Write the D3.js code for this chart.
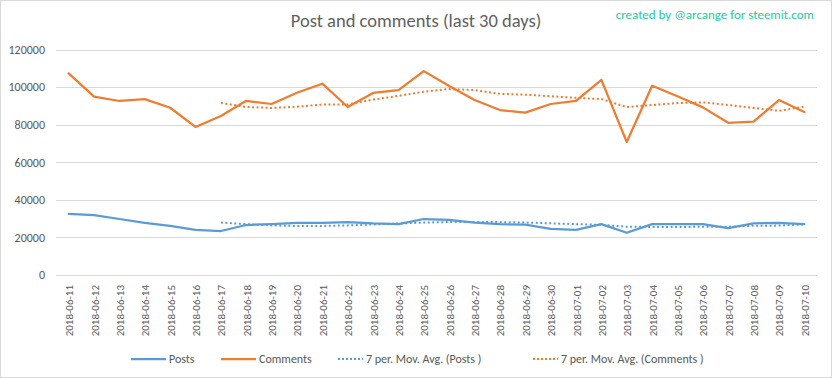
<!DOCTYPE html>
<html><head><meta charset="utf-8">
<script src="https://cdn.jsdelivr.net/npm/d3@7"></script>
<style>
body{margin:0;background:#fff;}
svg{display:block;font-family:Carlito,Calibri,"Open Sans",sans-serif;}
</style></head>
<body><svg id="c" width="832" height="378"></svg>
<script>
const dates = ["2018-06-11","2018-06-12","2018-06-13","2018-06-14","2018-06-15","2018-06-16","2018-06-17","2018-06-18","2018-06-19","2018-06-20","2018-06-21","2018-06-22","2018-06-23","2018-06-24","2018-06-25","2018-06-26","2018-06-27","2018-06-28","2018-06-29","2018-06-30","2018-07-01","2018-07-02","2018-07-03","2018-07-04","2018-07-05","2018-07-06","2018-07-07","2018-07-08","2018-07-09","2018-07-10"];
const posts = [32500,31900,29800,27700,26100,24000,23400,26600,27100,27700,27800,28200,27500,27100,29800,29300,27900,27100,26800,24500,24000,27100,22500,27100,27100,27100,25000,27500,27700,27100];
const comments = [107300,94900,92600,93600,89000,78800,84600,92700,91000,97000,101800,89400,96900,98400,108500,100600,93100,87800,86400,91000,92600,103800,70800,100700,95100,89200,81000,81600,93100,86700];
// 7 per. moving averages (start at 7th day)
const postsMA = [null,null,null,null,null,null,27914,27071,26386,26086,26100,26400,26900,27429,27886,28200,28229,28129,27929,27500,27057,26671,25700,25586,25586,25629,25700,26200,26286,26943];
const commentsMA = [null,null,null,null,null,null,91543,89457,88900,89529,90700,90757,93343,95314,97571,98943,98386,96386,95957,95114,94286,93614,89357,90443,91486,91886,90457,88886,87357,89629];
const yTicks = [0,20000,40000,60000,80000,100000,120000];
const legendLabels = ["Posts","Comments","7 per. Mov. Avg. (Posts )","7 per. Mov. Avg. (Comments )"];

const svg = d3.select("#c");
const BLUE="#5B9BD5", ORANGE="#ED7D31", TXT="#595959", GRID="#d9d9d9";
const L=56, R=817, T=49.5, B=275;

svg.append("rect").attr("x",0.5).attr("y",0.5).attr("width",831).attr("height",377)
  .attr("fill","#fff").attr("stroke","#d9d9d9");

const x = d3.scalePoint().domain(dates).range([L,R]).padding(0.5);
const y = d3.scaleLinear().domain([0,120000]).range([B,T]);

// grid
svg.append("g").selectAll("line").data(yTicks).join("line")
  .attr("x1",L).attr("x2",R).attr("y1",d=>Math.round(y(d))+0.5).attr("y2",d=>Math.round(y(d))+0.5)
  .attr("stroke",GRID).attr("stroke-width",1);

// y axis
const ya = svg.append("g").attr("transform",`translate(${L},0)`)
  .call(d3.axisLeft(y).tickValues(yTicks).tickSize(0).tickPadding(11).tickFormat(d=>String(d)));
ya.select(".domain").remove();
ya.selectAll("text").attr("fill",TXT).style("font-size","12px").style("font-family","Carlito,Calibri,'Open Sans',sans-serif");

// x axis
const xa = svg.append("g").attr("transform",`translate(0,${B})`)
  .call(d3.axisBottom(x).tickSize(0).tickPadding(0));
xa.select(".domain").remove();
xa.selectAll("text").attr("fill",TXT).style("font-size","11px").style("font-family","Carlito,Calibri,'Open Sans',sans-serif")
  .attr("text-anchor","end").attr("dy",null).attr("y",0)
  .attr("transform","translate(4,10) rotate(-90)");

// lines
const line = d3.line().defined(d=>d[1]!=null).x(d=>x(d[0])).y(d=>y(d[1]));
const mk = arr => dates.map((d,i)=>[d,arr[i]]);
svg.append("path").attr("d",line(mk(postsMA))).attr("fill","none").attr("stroke",BLUE).attr("stroke-width",2).attr("stroke-dasharray","2,2.5");
svg.append("path").attr("d",line(mk(commentsMA))).attr("fill","none").attr("stroke",ORANGE).attr("stroke-width",2).attr("stroke-dasharray","2,2.5");
svg.append("path").attr("d",line(mk(posts))).attr("fill","none").attr("stroke",BLUE).attr("stroke-width",2.25).attr("stroke-linejoin","round").attr("stroke-linecap","round");
svg.append("path").attr("d",line(mk(comments))).attr("fill","none").attr("stroke",ORANGE).attr("stroke-width",2.25).attr("stroke-linejoin","round").attr("stroke-linecap","round");

// title
svg.append("text").attr("x",416).attr("y",27).attr("text-anchor","middle")
  .attr("fill","#5f5f5f").style("font-size","18.5px").style("font-family","'Carlito','Calibri Light','Open Sans',sans-serif").style("font-weight","300")
  .text("Post and comments (last 30 days)");
svg.append("text").attr("x",814).attr("y",19).attr("text-anchor","end")
  .attr("fill","#1fc9a0").style("font-size","13px")
  .text("created by @arcange for steemit.com");

// legend
const legX = [131,221,338,533];
const legStyles = [[BLUE,null,2.25],[ORANGE,null,2.25],[BLUE,"2,2",2],[ORANGE,"2,2",2]];
const lg = svg.append("g");
legendLabels.forEach((t,i)=>{
  const w = i<2?35:25;
  lg.append("line").attr("x1",legX[i]).attr("x2",legX[i]+w).attr("y1",359).attr("y2",359)
    .attr("stroke",legStyles[i][0]).attr("stroke-width",legStyles[i][2]).attr("stroke-dasharray",legStyles[i][1]);
  lg.append("text").attr("x",legX[i]+w+3).attr("y",363).attr("fill",TXT).style("font-size","12px").text(t);
});
</script></body></html>
